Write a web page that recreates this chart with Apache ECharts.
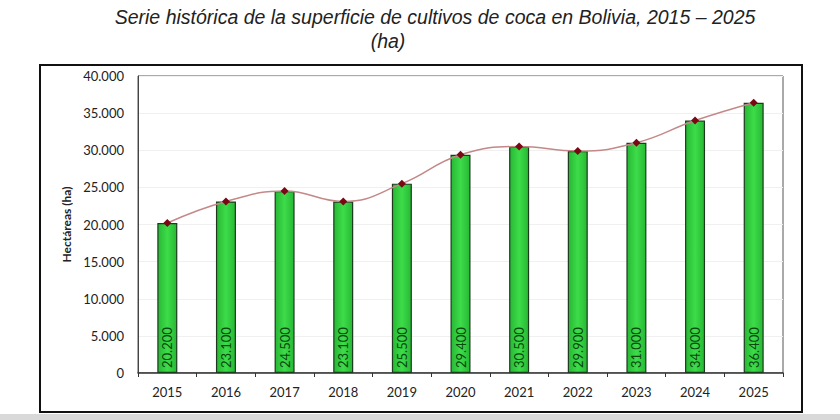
<!DOCTYPE html>
<html>
<head>
<meta charset="utf-8">
<script src="https://cdn.jsdelivr.net/npm/echarts@6/dist/echarts.min.js"></script>
<style>
html,body{margin:0;padding:0;background:#fff;}
#c{width:840px;height:420px;}
</style>
</head>
<body>
<div id="c"></div>
<script>
const years = ['2015','2016','2017','2018','2019','2020','2021','2022','2023','2024','2025'];
const hectares = [20200, 23100, 24500, 23100, 25500, 29400, 30500, 29900, 31000, 34000, 36400];
const titleLine1 = 'Serie histórica de la superficie de cultivos de coca en Bolivia, 2015 – 2025';
const titleLine2 = '(ha)';
const yAxisName = 'Hectáreas (ha)';

function fmt(v){
  return String(v).replace(/\B(?=(\d{3})+(?!\d))/g, '.');
}

const chart = echarts.init(document.getElementById('c'), null, {renderer:'svg'});
chart.setOption({
  animation:false,
  backgroundColor:'#fff',
  graphic:[
    {type:'rect', shape:{x:0,y:414,width:840,height:6}, style:{fill:'#d9d9d9'}, silent:true, z:-1},
    {type:'rect', shape:{x:40,y:65,width:762,height:347}, style:{fill:'none',stroke:'#111',lineWidth:2}, silent:true},
    {type:'text', x:435, y:7, style:{text:titleLine1, fill:'#222', font:'italic 19.5px "Liberation Sans", Arial, sans-serif', textAlign:'center', textVerticalAlign:'top'}},
    {type:'text', x:388, y:31, style:{text:titleLine2, fill:'#222', font:'italic 19.5px "Liberation Sans", Arial, sans-serif', textAlign:'center', textVerticalAlign:'top'}}
  ],
  grid:{left:138, right:57, top:76, bottom:47, show:true, borderColor:'#555', borderWidth:1},
  xAxis:{
    type:'category',
    data:years,
    axisLine:{lineStyle:{color:'#333', width:1.5}},
    axisTick:{show:true, alignWithLabel:false, length:4, lineStyle:{color:'#333'}},
    axisLabel:{color:'#222', fontSize:13, fontFamily:'Lato, "Noto Sans", sans-serif', margin:12}
  },
  yAxis:{
    type:'value',
    min:0, max:40000, interval:5000,
    name:yAxisName,
    nameLocation:'middle',
    nameGap:66,
    nameTextStyle:{color:'#222', fontSize:12, fontWeight:'bold', fontFamily:'Lato, "Noto Sans", sans-serif'},
    axisLine:{show:true, lineStyle:{color:'#444', width:1}},
    axisTick:{show:false},
    splitLine:{lineStyle:{color:'#f0f0f0'}},
    axisLabel:{color:'#222', fontSize:13, fontFamily:'Lato, "Noto Sans", sans-serif', margin:14, formatter:fmt}
  },
  series:[
    {
      type:'bar',
      data:hectares,
      barWidth:20,
      itemStyle:{
        color:new echarts.graphic.LinearGradient(0,0,1,0,[
          {offset:0,color:'#27b834'},{offset:0.5,color:'#3ddc4a'},{offset:1,color:'#27b834'}
        ]),
        borderColor:'#1d3a1f', borderWidth:1.2
      },
      label:{
        show:true, position:'insideBottom', rotate:90, align:'left', verticalAlign:'middle',
        distance:5, color:'#0b470f', fontSize:13, fontFamily:'Lato, "Noto Sans", sans-serif',
        formatter:p=>fmt(p.value)
      },
      z:2
    },
    {
      type:'line',
      data:hectares,
      smooth:0.45,
      symbol:'diamond',
      symbolSize:8,
      lineStyle:{color:'#c48888', width:1.5},
      itemStyle:{color:'#7a0814'},
      z:3
    }
  ]
});
</script>
</body>
</html>
